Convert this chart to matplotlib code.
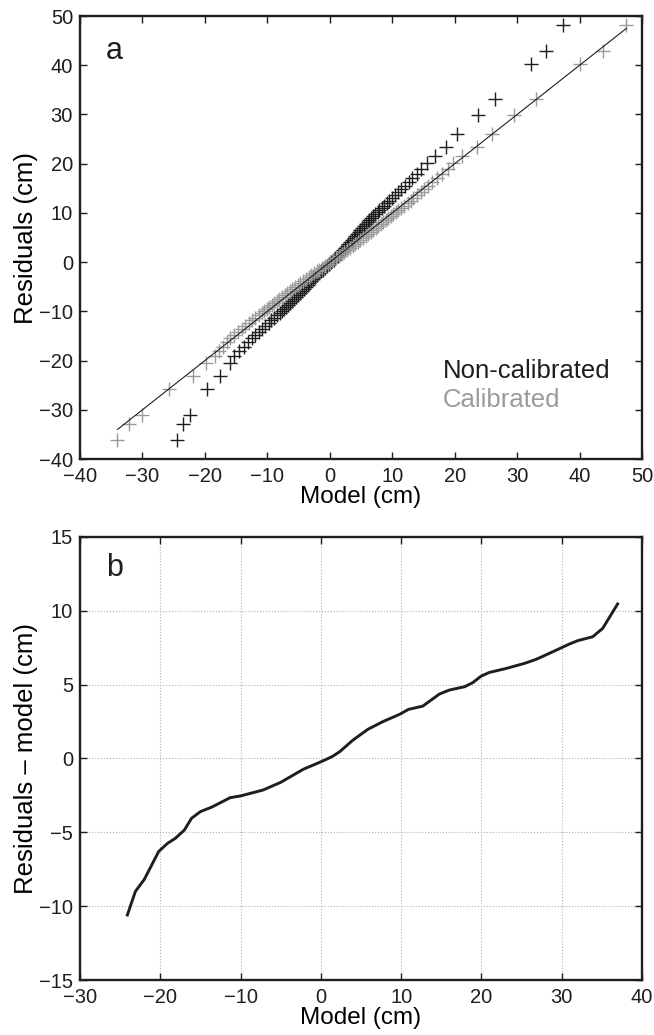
# external libraries
import matplotlib.pyplot as plt
import numpy as np

plt.rcParams['font.family'] = ['Liberation Sans', 'DejaVu Sans']

# residual quantiles (shared by both series)
resid = [-36.1, -32.9, -31.1, -25.8, -23.1, -20.4, -19.0, -18.1, -17.2,
         -16.3, -15.5, -14.8, -14.1, -13.5, -12.9, -12.3, -11.8, -11.3, -10.8,
         -10.3, -9.9, -9.5, -9.1, -8.7, -8.3, -7.9, -7.5, -7.1, -6.7, -6.3,
         -5.9, -5.5, -5.1, -4.7, -4.3, -3.9, -3.5, -3.1, -2.7, -2.3, -1.9,
         -1.5, -1.1, -0.7, -0.3, 0.1, 0.5, 0.9, 1.3, 1.7, 2.1, 2.5, 2.9, 3.3,
         3.7, 4.1, 4.5, 4.9, 5.3, 5.7, 6.1, 6.5, 6.9, 7.3, 7.7, 8.1, 8.5, 8.9,
         9.3, 9.7, 10.1, 10.5, 11.0, 11.5, 12.0, 12.5, 13.0, 13.6, 14.2, 14.8,
         15.5, 16.2, 17.0, 17.9, 18.9,
         20.1, 21.6, 23.4, 26.0, 29.9, 33.1, 40.25, 42.9, 48.2]

# model quantiles, non-calibrated
model_nc = [-24.5, -23.5, -22.4, -19.7, -17.6, -16.0, -15.3, -14.5, -13.8,
            -13.1, -12.5, -12.0, -11.4, -10.9, -10.3, -9.8, -9.35, -8.9, -8.5,
            -8.05, -7.7, -7.34, -7.0, -6.7, -6.35, -6.0, -5.7, -5.4, -5.05, -4.75,
            -4.45, -4.15, -3.85, -3.55, -3.25, -2.95, -2.65, -2.3, -2.0, -1.7, -1.35,
            -1.05, -0.7, -0.4, -0.05, 0.25, 0.6, 0.9, 1.25, 1.55, 1.85, 2.15, 2.4, 2.7,
            2.95, 3.2, 3.5, 3.8, 4.05, 4.3, 4.6, 4.9, 5.2, 5.5, 5.75, 6.1, 6.35, 6.65,
            7.0, 7.3, 7.65, 7.95, 8.35, 8.75, 9.15, 9.55, 9.95, 10.4, 10.9, 11.4,
            12.05, 12.65, 13.2, 13.9, 14.6,
            15.6, 16.9, 18.6, 20.4, 23.7, 26.4, 32.2, 34.6, 37.4]

# model quantiles, calibrated
model_cal = [-34.0, -32.1, -30.1, -25.7, -21.9, -19.8, -18.4, -17.7, -17.05,
             -16.5, -15.9, -15.3, -14.7, -14.1, -13.5, -12.9, -12.4, -11.9, -11.4,
             -10.9, -10.5, -10.1, -9.7, -9.3, -8.9, -8.5, -8.1, -7.7, -7.25, -6.85,
             -6.4, -6.0, -5.6, -5.15, -4.7, -4.3, -3.85, -3.4, -3.0, -2.55, -2.1,
             -1.7, -1.25, -0.8, -0.35, 0.1, 0.55, 1.0, 1.45, 1.9, 2.35, 2.8, 3.2, 3.65,
             4.1, 4.5, 4.9, 5.35, 5.75, 6.15, 6.55, 6.95, 7.35, 7.75, 8.15, 8.55, 8.95,
             9.35, 9.75, 10.15, 10.55, 10.95, 11.45, 11.95, 12.45, 12.95, 13.4, 14.0,
             14.55, 15.1, 15.75, 16.4, 17.15, 18.0, 18.95,
             19.8, 21.1, 23.5, 25.9, 29.5, 33.0, 40.0, 43.8, 47.5]

# smoothed difference (panel b)
diff_x = [-24.1, -23.1, -22.0, -20.2, -19.1, -18.1, -17.0, -16.1, -15.0, -13.6,
          -11.3, -10.0, -7.2, -5.0, -2.2, 0.05, 1.4, 2.34, 4.0, 5.86, 7.73, 9.8,
          10.93, 12.7, 14.78, 16.03, 17.9, 18.9, 19.97, 21.0, 23.1, 25.36, 26.8,
          28.9, 30.95, 32.0, 33.85, 35.1, 36.96]
diff_y = [-10.6, -9.0, -8.2, -6.3, -5.75, -5.4, -4.85, -4.05, -3.6, -3.3,
          -2.66, -2.54, -2.14, -1.62, -0.74, -0.22, 0.12, 0.45, 1.24, 1.97, 2.49, 2.98,
          3.32, 3.54, 4.36, 4.63, 4.85, 5.12, 5.57, 5.82, 6.09, 6.43, 6.7,
          7.22, 7.74, 7.97, 8.23, 8.8, 10.45]

black = '#1e1e1e'
grey = '#9a9a9a'
tick_size = 14.5
xlab_size = 17.5
ylab_size = 18.5


def style_axes(ax):
    for s in ax.spines.values():
        s.set_linewidth(1.7)
        s.set_color(black)
    ax.tick_params(direction='in', top=True, right=True, length=5,
                   width=1, labelsize=tick_size, colors=black)
    ax.tick_params(axis='x', pad=6)
    ax.tick_params(axis='y', pad=5)


fig = plt.figure(figsize=(6.54, 10.35), dpi=100)

# panel a
ax1 = fig.add_axes([0.1223, 0.5565, 0.8594, 0.428])
ax1.plot(model_nc, resid, '+', color=black, ms=9.5, mew=1.0)
ax1.plot(model_cal, resid, '+', color=grey, ms=9.5, mew=1.0)
lo, hi = min(model_cal), max(model_cal)
ax1.plot([lo, hi], [lo, hi], '-', color=black, lw=0.8)
ax1.set_xlim(-40, 50)
ax1.set_ylim(-40, 50)
ax1.set_xticks(np.arange(-40, 51, 10))
ax1.set_yticks(np.arange(-40, 51, 10))
ax1.set_xlabel('Model (cm)', fontsize=xlab_size, labelpad=0)
ax1.set_ylabel('Residuals (cm)', fontsize=ylab_size, labelpad=1)
ax1.text(0.046, 0.922, 'a', transform=ax1.transAxes, fontsize=22,
         va='center', ha='left', color=black)
ax1.text(18.1, -22.1, 'Non-calibrated', fontsize=18.5, color=black, va='center')
ax1.text(18.1, -28.0, 'Calibrated', fontsize=18.5, color=grey, va='center')
style_axes(ax1)

# panel b
ax2 = fig.add_axes([0.1223, 0.0531, 0.8594, 0.4283])
ax2.plot(diff_x, diff_y, '-', color=black, lw=2.1)
ax2.set_xlim(-30, 40)
ax2.set_ylim(-15, 15)
ax2.set_xticks(np.arange(-30, 41, 10))
ax2.set_yticks(np.arange(-15, 16, 5))
ax2.grid(True, linestyle=':', color='#b0b0b0', linewidth=0.8)
ax2.set_xlabel('Model (cm)', fontsize=xlab_size, labelpad=0)
ax2.set_ylabel('Residuals \u2013 model (cm)', fontsize=ylab_size, labelpad=1)
ax2.text(0.046, 0.929, 'b', transform=ax2.transAxes, fontsize=22,
         va='center', ha='left', color=black)
style_axes(ax2)

fig.savefig('out.png', dpi=100)
